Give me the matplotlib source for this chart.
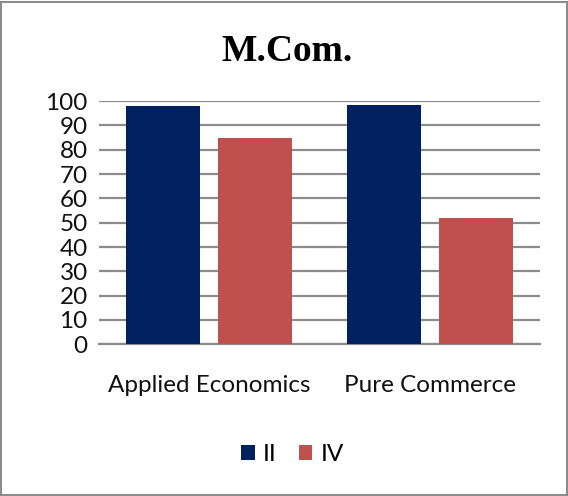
import matplotlib
matplotlib.use("Agg")
import matplotlib.pyplot as plt
from matplotlib.patches import Rectangle
import numpy as np

categories = ["Applied Economics", "Pure Commerce"]
series_names = ["II", "IV"]
values_ii = [98, 98.5]
values_iv = [85, 52]
colors = ["#002060", "#C0504D"]

fig = plt.figure(figsize=(5.68, 4.96), dpi=100)
ax = fig.add_axes([0.174, 0.306, 0.777, 0.490])

x = np.arange(len(categories))
width = 0.336
offset = 0.209
ax.bar(x - offset, values_ii, width, color=colors[0], label=series_names[0], zorder=3)
ax.bar(x + offset, values_iv, width, color=colors[1], label=series_names[1], zorder=3)

ax.set_xlim(-0.5, 1.5)
ax.set_ylim(0, 100)
ax.set_yticks(range(0, 101, 10))
ax.yaxis.grid(True, color="#8c8c8c", linewidth=1.6, zorder=0)
for s in ["top", "right", "left"]:
    ax.spines[s].set_visible(False)
ax.spines["bottom"].set_color("#8c8c8c")
ax.spines["bottom"].set_linewidth(1.6)
ax.tick_params(axis="both", length=0, labelsize=17.5, pad=8, labelcolor="#111111")
ax.set_xticks(x)
ax.set_xticklabels(categories)
ax.tick_params(axis="x", pad=22)
for lab in ax.get_xticklabels() + ax.get_yticklabels():
    lab.set_fontfamily("Lato")

fig.text(0.505, 0.897, "M.Com.", ha="center", va="center",
         fontsize=27, fontweight="bold", family="Liberation Serif")

fig.legend(loc="center", bbox_to_anchor=(0.515, 0.083), ncol=2, frameon=False,
           prop={"family": "Lato", "size": 17.5}, handlelength=0.55, handleheight=0.55,
           handletextpad=0.35, columnspacing=0.9)

fig.patches.append(Rectangle((0.002, 0.002), 0.996, 0.994, transform=fig.transFigure,
                             fill=False, edgecolor="#8c8c8c", linewidth=1.5))

fig.savefig("out.png", dpi=100)
